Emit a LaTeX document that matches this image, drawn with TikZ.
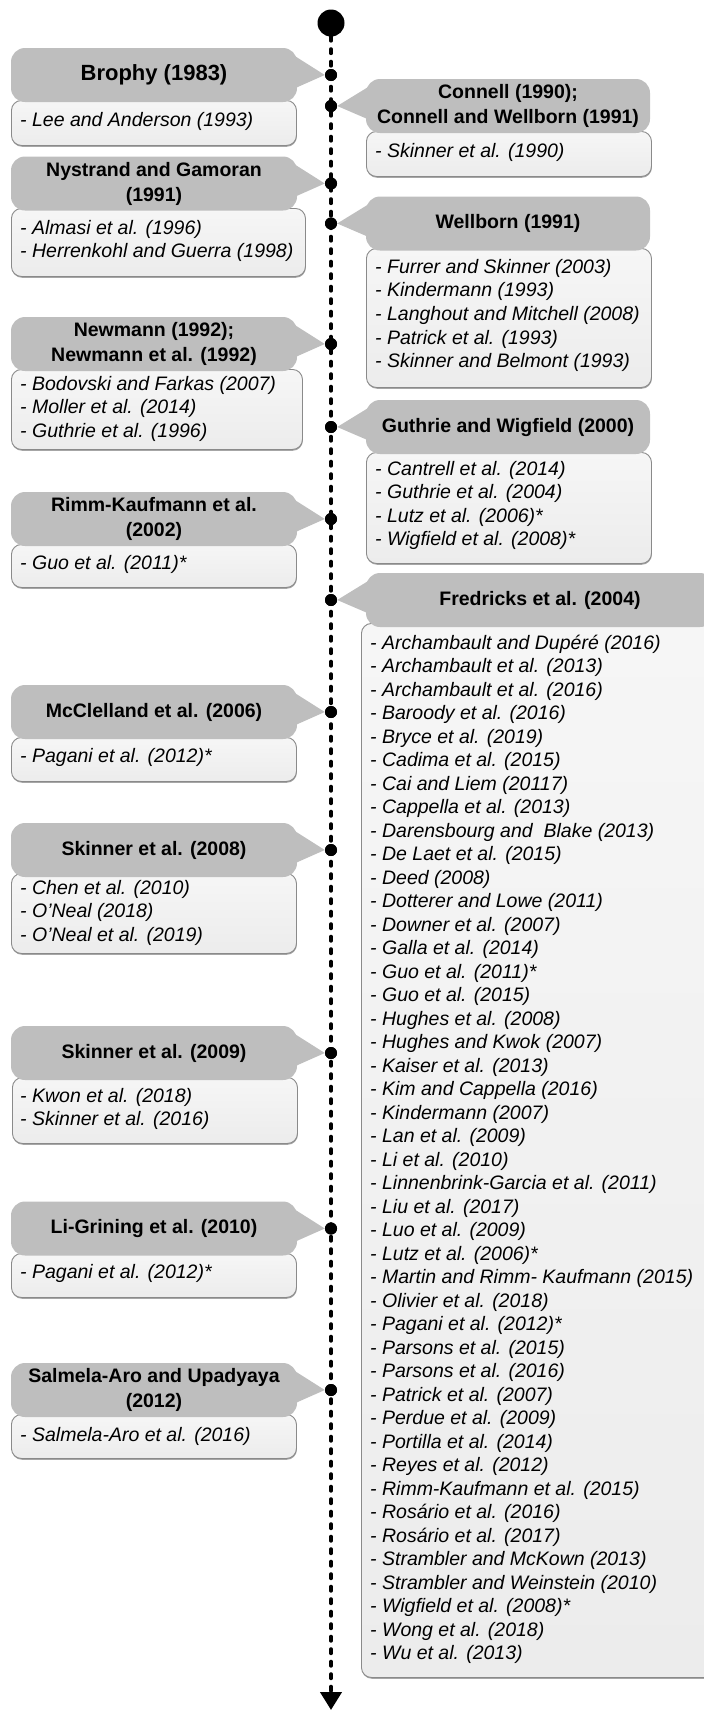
\documentclass[tikz,border=0pt]{standalone}
\usepackage{fontspec}
\setmainfont{Liberation Sans}
\usetikzlibrary{arrows.meta,calc,shadows}
\definecolor{hdrgray}{HTML}{BEBEBE}
\definecolor{bodytop}{HTML}{F6F6F6}
\definecolor{bodybot}{HTML}{ECECEC}
\definecolor{bordergray}{HTML}{8A8A8A}
\newcommand{\bodylines}[5]{%
  \foreach \t [count=\i] in {#5} {\node[btext] (#1-\i) at (#2,{#3+5+(\i-1)*#4}) {\t};}}
\begin{document}
\begin{tikzpicture}[x=1pt,y=-1pt,
  hdr/.style={fill=hdrgray, rounded corners=14pt, inner sep=0pt, align=center,
    font=\bfseries\fontsize{19.5}{25}\selectfont, text=black},
  lhdr/.style={hdr, minimum width=286pt, minimum height=54pt},
  rhdr/.style={hdr, minimum width=284pt, minimum height=54pt},
  bodybox/.style={top color=bodytop, bottom color=bodybot, draw=bordergray, line width=0.9pt,
    rounded corners=10pt, anchor=north west, inner sep=0pt,
    drop shadow={shadow xshift=0.4pt, shadow yshift=-1.3pt, fill=black, opacity=0.35}},
  btext/.style={font=\itshape\fontsize{19.5}{23.5}\selectfont, anchor=base west, inner sep=0pt, text=black},
  tdot/.style={circle, fill=black, minimum size=12pt, inner sep=0pt},
  wedge/.style={fill=hdrgray},
  timeline/.style={line width=4pt, line cap=round, dash pattern=on 4pt off 8.5pt,
    -{Triangle[width=21pt,length=18pt]}}
]
\useasboundingbox (0,0) rectangle (704,1711);
\clip (0,0) rectangle (704,1711);

% timeline
\node[circle, fill=black, minimum size=27pt, inner sep=0pt] (top) at (331,23) {};
\coordinate (tlend) at (331,1710);
\draw[timeline] (top.south) -- (tlend);

% ---------- bodies (left) ----------
\node[bodybox, minimum width=285pt, minimum height=45pt] (b1) at (11,100) {};
\node[bodybox, minimum width=294pt, minimum height=68pt] (b2) at (11,208) {};
\node[bodybox, minimum width=291pt, minimum height=80pt] (b3) at (11,369) {};
\node[bodybox, minimum width=285pt, minimum height=43pt] (b4) at (11,544) {};
\node[bodybox, minimum width=285pt, minimum height=44pt] (b5) at (11,737) {};
\node[bodybox, minimum width=285pt, minimum height=80pt] (b6) at (11,873) {};
\node[bodybox, minimum width=285pt, minimum height=66pt] (b7) at (12,1077) {};
\node[bodybox, minimum width=285pt, minimum height=44pt] (b8) at (11,1253) {};
\node[bodybox, minimum width=285pt, minimum height=44pt] (b9) at (11,1414) {};
% ---------- bodies (right) ----------
\node[bodybox, minimum width=285pt, minimum height=45pt] (c1) at (366,131) {};
\node[bodybox, minimum width=285pt, minimum height=139pt] (c2) at (366,248) {};
\node[bodybox, minimum width=285pt, minimum height=111pt] (c3) at (366,452) {};
\node[bodybox, minimum width=370pt, minimum height=1054pt] (c4) at (361,623) {};

% ---------- dots ----------
\foreach \n/\y in {d1/75, d2/183.5, d3/344, d4/519, d5/712, d6/850, d7/1053, d8/1228.5, d9/1390,
                   e1/106, e2/223.5, e3/427, e4/600}
  {\node[tdot] (\n) at (331,\y) {};}

% ---------- headers (left) ----------
\node[lhdr] (h1) at (154,75) {\fontsize{22}{26}\selectfont Brophy (1983)};
\node[lhdr] (h2) at (154,183.5) {Nystrand and Gamoran\\(1991)};
\node[lhdr] (h3) at (154,344) {Newmann (1992);\\Newmann et al. (1992)};
\node[lhdr] (h4) at (154,519) {Rimm-Kaufmann et al.\\(2002)};
\node[lhdr] (h5) at (154,712) {McClelland et al. (2006)};
\node[lhdr] (h6) at (154,850) {Skinner et al. (2008)};
\node[lhdr] (h7) at (154,1053) {Skinner et al. (2009)};
\node[lhdr] (h8) at (154,1228.5) {Li-Grining et al. (2010)};
\node[lhdr] (h9) at (154,1390) {Salmela-Aro and Upadyaya\\(2012)};
\foreach \h/\d in {h1/d1,h2/d2,h3/d3,h4/d4,h5/d5,h6/d6,h7/d7,h8/d8,h9/d9}
  {\fill[wedge] ($(\h.east)+(-4,-20)$) -- (\d.west) -- ($(\h.east)+(-4,14)$) -- cycle;}

% ---------- headers (right) ----------
\node[rhdr] (r1) at (508,106) {Connell (1990);\\Connell and Wellborn (1991)};
\node[rhdr] (r2) at (508,223.5) {Wellborn (1991)};
\node[rhdr] (r3) at (508,427) {Guthrie and Wigfield (2000)};
\node[hdr, minimum width=348pt, minimum height=54pt] (r4) at (540,600) {Fredricks et al. (2004)};
\foreach \h/\d in {r1/e1,r2/e2,r3/e3,r4/e4}
  {\fill[wedge] ($(\h.west)+(4,-20)$) -- (\d.east) -- ($(\h.west)+(4,14)$) -- cycle;}

% redraw dots on top
\foreach \n in {d1,d2,d3,d4,d5,d6,d7,d8,d9,e1,e2,e3,e4}
  {\fill[black] (\n.center) circle (6pt);}

% ---------- body texts ----------
\bodylines{t1}{20}{121}{23.55}{- Lee and Anderson (1993)}
\bodylines{t2}{20}{229}{23.55}{- Almasi et al. (1996), - Herrenkohl and Guerra (1998)}
\bodylines{t3}{20}{385}{23.55}{- Bodovski and Farkas (2007), - Moller et al. (2014), - Guthrie et al. (1996)}
\bodylines{t4}{20}{564}{23.55}{- Guo et al. (2011)*}
\bodylines{t5}{20}{757}{23.55}{- Pagani et al. (2012)*}
\bodylines{t6}{20}{889}{23.55}{- Chen et al. (2010), - O’Neal (2018), - O’Neal et al. (2019)}
\bodylines{t7}{20}{1097}{23.55}{- Kwon et al. (2018), - Skinner et al. (2016)}
\bodylines{t8}{20}{1273}{23.55}{- Pagani et al. (2012)*}
\bodylines{t9}{20}{1436}{23.55}{- Salmela-Aro et al. (2016)}
\bodylines{u1}{375}{152}{23.55}{- Skinner et al. (1990)}
\bodylines{u2}{375}{268}{23.7}{- Furrer and Skinner (2003), - Kindermann (1993), - Langhout and Mitchell (2008), - Patrick et al. (1993), - Skinner and Belmont (1993)}
\bodylines{u3}{375}{470}{23.65}{- Cantrell et al. (2014), - Guthrie et al. (2004), - Lutz et al. (2006)*, - Wigfield et al. (2008)*}
\bodylines{u4}{370}{644}{23.51}{- Archambault and Dupéré (2016), - Archambault et al. (2013), - Archambault et al. (2016), - Baroody et al. (2016), - Bryce et al. (2019), - Cadima et al. (2015), - Cai and Liem (20117), - Cappella et al. (2013), - Darensbourg and\ \ Blake (2013), - De Laet et al. (2015), - Deed (2008), - Dotterer and Lowe (2011), - Downer et al. (2007), - Galla et al. (2014), - Guo et al. (2011)*, - Guo et al. (2015), - Hughes et al. (2008), - Hughes and Kwok (2007), - Kaiser et al. (2013), - Kim and Cappella (2016), - Kindermann (2007), - Lan et al. (2009), - Li et al. (2010), - Linnenbrink-Garcia et al. (2011), - Liu et al. (2017), - Luo et al. (2009), - Lutz et al. (2006)*, - Martin and Rimm- Kaufmann (2015), - Olivier et al. (2018), - Pagani et al. (2012)*, - Parsons et al. (2015), - Parsons et al. (2016), - Patrick et al. (2007), - Perdue et al. (2009), - Portilla et al. (2014), - Reyes et al. (2012), - Rimm-Kaufmann et al. (2015), - Rosário et al. (2016), - Rosário et al. (2017), - Strambler and McKown (2013), - Strambler and Weinstein (2010), - Wigfield et al. (2008)*, - Wong et al. (2018), - Wu et al. (2013)}
\end{tikzpicture}
\end{document}
